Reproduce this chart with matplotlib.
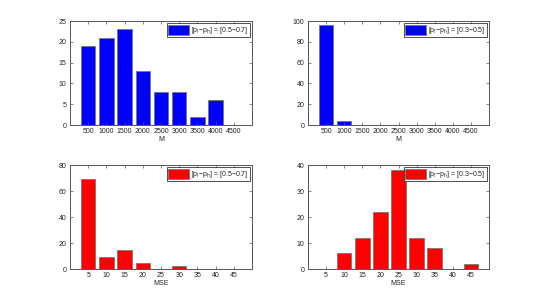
import numpy as np
import matplotlib
matplotlib.use('Agg')
import matplotlib.pyplot as plt

plt.rcParams['font.family'] = 'Liberation Sans'
plt.rcParams['mathtext.fontset'] = 'custom'
plt.rcParams['mathtext.rm'] = 'Liberation Sans'
plt.rcParams['mathtext.it'] = 'Liberation Sans'

m_bins = [500, 1000, 1500, 2000, 2500, 3000, 3500, 4000, 4500]
m_counts_57 = [19, 21, 23, 13, 8, 8, 2, 6, 0]
m_counts_35 = [96, 4, 0, 0, 0, 0, 0, 0, 0]

mse_bins = [5, 10, 15, 20, 25, 30, 35, 40, 45]
mse_counts_57 = [69, 9, 15, 5, 0, 2, 0, 0, 0]
mse_counts_35 = [0, 6, 12, 22, 38, 12, 8, 0, 2]

label_57 = r'$[p_l\!-\!p_h]$ = [0.5$-$0.7]'
label_35 = r'$[p_l\!-\!p_h]$ = [0.3$-$0.5]'

panels = [
    # (left, bottom, x, y, color, label, xlabel, xlim, yticks)
    (70, 125, m_bins, m_counts_57, 'blue', label_57, 'M', (0, 5000), [0, 5, 10, 15, 20, 25]),
    (308, 125, m_bins, m_counts_35, 'blue', label_35, 'M', (0, 5000), [0, 20, 40, 60, 80, 100]),
    (70, 269, mse_bins, mse_counts_57, 'red', label_57, 'MSE', (0, 50), [0, 20, 40, 60, 80]),
    (308, 269, mse_bins, mse_counts_35, 'red', label_35, 'MSE', (0, 50), [0, 10, 20, 30, 40]),
]

W, H = 540, 303
fig = plt.figure(figsize=(W/100, H/100), dpi=100)
frame_col = '#555555'
fs = 5

for left, bottom, x, y, col, lab, xlab, xlim, yticks in panels:
    width = 182 if left == 70 else 181
    ax = fig.add_axes([left/W, 1 - bottom/H, width/W, 104/H])
    step = x[1] - x[0]
    ax.bar(x, y, width=0.8*step, color=col, edgecolor='#777777', linewidth=0.6, label=lab)
    ax.set_xlim(*xlim)
    ax.set_ylim(yticks[0], yticks[-1])
    ax.set_xticks(x)
    ax.set_yticks(yticks)
    ax.tick_params(direction='in', top=True, right=True, labelsize=fs, length=2,
                   width=0.5, color=frame_col, pad=2.5, labelcolor='#222222')
    for s in ax.spines.values():
        s.set_color(frame_col)
        s.set_linewidth(0.7)
    ax.set_xlabel(xlab, fontsize=fs, labelpad=0.2, color='#222222')
    leg = ax.legend(loc='upper right', fontsize=fs, handlelength=3.0, handleheight=1.8,
                    borderpad=0.2, handletextpad=0.3, borderaxespad=0.35, fancybox=False,
                    framealpha=1)
    for t in leg.get_texts():
        t.set_color('#222222')
    leg.get_frame().set_edgecolor('#333333')
    leg.get_frame().set_linewidth(0.6)

fig.savefig('out.png', dpi=100, facecolor='white')
